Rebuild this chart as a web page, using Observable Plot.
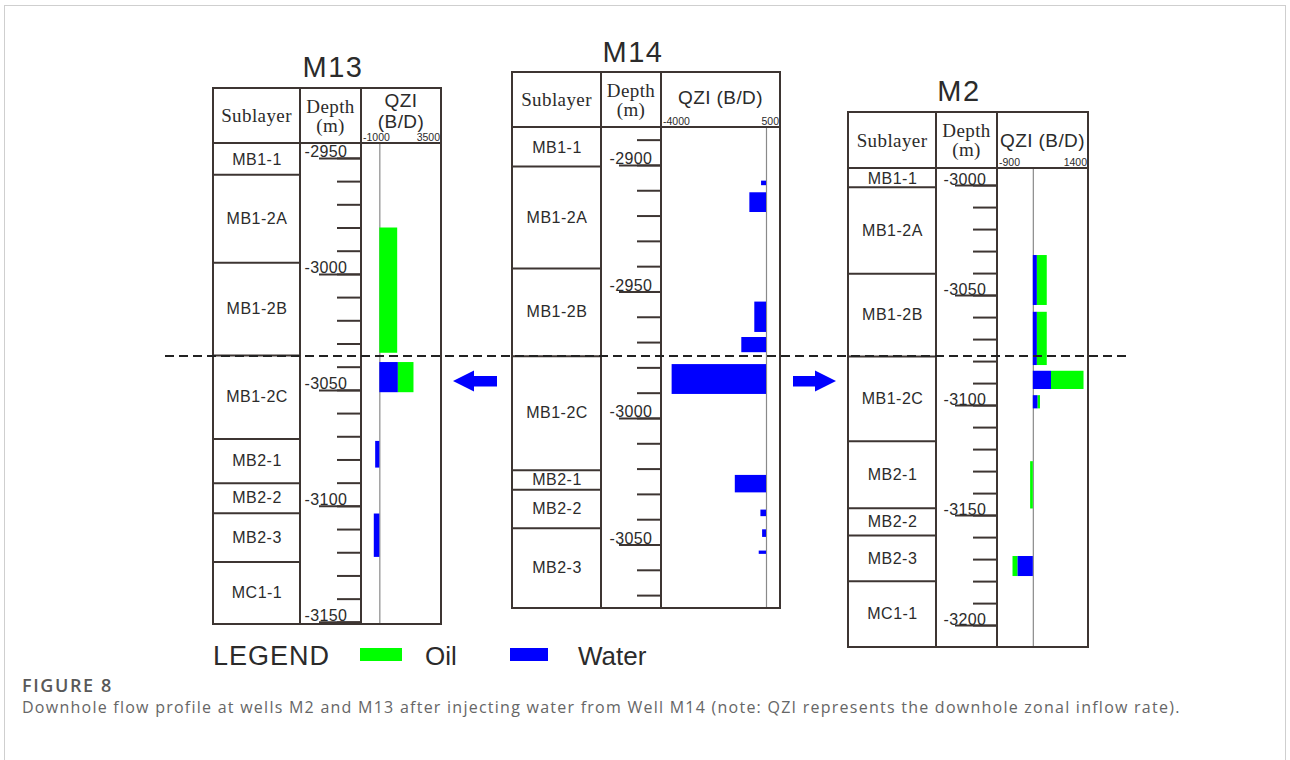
<!DOCTYPE html>
<html>
<head>
<meta charset="utf-8">
<script src="https://cdn.jsdelivr.net/npm/d3@7"></script>
<script src="https://cdn.jsdelivr.net/npm/@observablehq/plot@0.6"></script>
<style>
  html, body { margin: 0; padding: 0; background: #fff; }
  body { width: 1290px; height: 760px; position: relative; overflow: hidden; font-family: "Liberation Sans", Arial, sans-serif; color: #2b2b2b; }
  .card { position: absolute; left: 4px; top: 5px; width: 1282px; height: 800px; border: 1.5px solid #cfcfcf; box-sizing: border-box; }
  .tbl { position: absolute; display: grid; gap: 2px; padding: 2px; background: #3d3532; }
  .cell { background: #fff; position: relative; overflow: visible; }
  .cell svg { display: block; }
  .hd { display: flex; align-items: center; justify-content: center; text-align: center; }
  .serif { font-family: "Liberation Serif", "Times New Roman", serif; font-size: 19px; line-height: 19px; letter-spacing: 0.4px; color: #2b2b2b; }
  .qzi { font-family: "Liberation Sans", Arial, sans-serif; font-size: 19px; line-height: 21px; letter-spacing: 0.4px; color: #2b2b2b; white-space: nowrap; display: flex; flex-direction: column; align-items: center; }
  .qticks { position: absolute; left: 1px; right: 0px; bottom: 0px; display: flex; justify-content: space-between; font-size: 10.5px; line-height: 10px; color: #2b2b2b; }
  .overlay { position: absolute; left: 0; top: 0; pointer-events: none; }
  .fig { position: absolute; left: 22px; top: 676px; font-family: "Open Sans", "Noto Sans", sans-serif; font-weight: 600; font-size: 18px; line-height: 18px; letter-spacing: 1.6px; color: #595959; }
  .txt { position: absolute; left: 22px; top: 699px; font-family: "Open Sans", "Noto Sans", sans-serif; font-size: 16px; line-height: 16px; color: #666; letter-spacing: 1.25px; white-space: nowrap; }
</style>
</head>
<body>
<div class="card"></div>
<div id="wells"></div>
<div class="fig">FIGURE 8</div>
<div class="txt" id="cap"></div>
<script>
// ---------------- DATA ----------------
// Well M13
const m13Layers = ["MB1-1", "MB1-2A", "MB1-2B", "MB1-2C", "MB2-1", "MB2-2", "MB2-3", "MC1-1"];
const m13LayerEdges = [-2944, -2957, -2995, -3035, -3071, -3090, -3103, -3124, -3150.5];
const m13DepthLabels = [-2950, -3000, -3050, -3100, -3150];
const m13TickFirst = -2950, m13TickLast = -3150;
const m13QziRange = [-1000, 3500];
const m13BarTop = [-2980, -3038, -3072, -3103.3];
const m13BarBottom = [-3034, -3051, -3083.5, -3122];
const m13Water = [0, 1070, -240, -320];
const m13Oil = [1030, 900, 0, 0];

// Well M14 (injector)
const m14Layers = ["MB1-1", "MB1-2A", "MB1-2B", "MB1-2C", "MB2-1", "MB2-2", "MB2-3"];
const m14LayerEdges = [-2885.4, -2900.4, -2940.7, -2975.4, -3020.5, -3028.2, -3043.4, -3074.7];
const m14DepthLabels = [-2900, -2950, -3000, -3050];
const m14TickFirst = -2890, m14TickLast = -3070;
const m14QziRange = [-4000, 500];
const m14BarTop = [-2906.2, -2910.8, -2954, -2968, -2978.7, -3022.5, -3036.2, -3044, -3052.4];
const m14BarBottom = [-2908, -2918.6, -2966, -2974, -2990.5, -3029.4, -3038.8, -3047, -3053.7];
const m14Water = [-190, -640, -450, -950, -3630, -1200, -215, -150, -280];
const m14Oil = [0, 0, 0, 0, 0, 0, 0, 0, 0];

// Well M2
const m2Layers = ["MB1-1", "MB1-2A", "MB1-2B", "MB1-2C", "MB2-1", "MB2-2", "MB2-3", "MC1-1"];
const m2LayerEdges = [-2992.7, -3000.8, -3040.1, -3077.7, -3116.2, -3146.7, -3159.1, -3179.9, -3209.5];
const m2DepthLabels = [-3000, -3050, -3100, -3150, -3200];
const m2TickFirst = -3000, m2TickLast = -3200;
const m2QziRange = [-900, 1400];
const m2BarTop = [-3031.8, -3057.6, -3084.4, -3095.5, -3125.5, -3168.6];
const m2BarBottom = [-3054.5, -3081.8, -3092.7, -3101.5, -3147, -3177.7];
const m2Water = [105, 105, 470, 125, 0, -400];
const m2Oil = [255, 255, 840, 60, -70, -125];

const legendLabels = ["Oil", "Water"];
const caption = "Downhole flow profile at wells M2 and M13 after injecting water from Well M14 (note: QZI represents the downhole zonal inflow rate).";

// ---------------- STYLE / LAYOUT ----------------
const LINE = "#3d3532";
const INK = "#2b2b2b";
const OIL = "#00ff00";
const WATER = "#0000ff";

document.getElementById("cap").textContent = caption;

const wells = [
  {name: "M13", layers: m13Layers, edges: m13LayerEdges, labels: m13DepthLabels, tickFirst: m13TickFirst, tickLast: m13TickLast,
   qzi: m13QziRange, top: m13BarTop, bottom: m13BarBottom, water: m13Water, oil: m13Oil,
   L: {left: 212, top: 87, cols: [85, 59, 78], headH: 53, bodyH: 479, labelDx: 3, qziTwo: true, qziPad: 9, titleX: 333, titleY: 77}},
  {name: "M14", layers: m14Layers, edges: m14LayerEdges, labels: m14DepthLabels, tickFirst: m14TickFirst, tickLast: m14TickLast,
   qzi: m14QziRange, top: m14BarTop, bottom: m14BarBottom, water: m14Water, oil: m14Oil,
   L: {left: 511, top: 71, cols: [87, 58, 117], headH: 53, bodyH: 479, labelDx: 7, qziTwo: false, qziPad: 4, titleX: 633, titleY: 62}},
  {name: "M2", layers: m2Layers, edges: m2LayerEdges, labels: m2DepthLabels, tickFirst: m2TickFirst, tickLast: m2TickLast,
   qzi: m2QziRange, top: m2BarTop, bottom: m2BarBottom, water: m2Water, oil: m2Oil,
   L: {left: 847, top: 111, cols: [86, 59, 89], headH: 54, bodyH: 477, labelDx: 6, qziTwo: false, qziPad: 0, titleX: 959, titleY: 101}}
];

const baseStyle = {background: "transparent", overflow: "visible", fontFamily: "'Liberation Sans', Arial, sans-serif", color: INK};

function cell(parent, cls) {
  const d = document.createElement("div");
  d.className = "cell " + (cls || "");
  parent.appendChild(d);
  return d;
}

const host = document.getElementById("wells");

for (const w of wells) {
  const L = w.L;
  const yDomain = [w.edges[w.edges.length - 1], w.edges[0]];
  const tbl = document.createElement("div");
  tbl.className = "tbl";
  tbl.style.left = L.left + "px";
  tbl.style.top = L.top + "px";
  tbl.style.gridTemplateColumns = L.cols.map(c => c + "px").join(" ");
  tbl.style.gridTemplateRows = `${L.headH}px ${L.bodyH}px`;
  host.appendChild(tbl);

  // header row
  const h1 = cell(tbl, "hd");
  h1.innerHTML = `<span class="serif">Sublayer</span>`;
  const h2 = cell(tbl, "hd");
  h2.innerHTML = `<span class="serif">Depth<br>(m)</span>`;
  const h3 = cell(tbl, "hd");
  const qziText = L.qziTwo ? "<span>QZI</span><span>(B/D)</span>" : "<span>QZI (B/D)</span>";
  h3.innerHTML = `<div class="qzi" style="margin-bottom:${L.qziPad}px">${qziText}</div>` +
    `<div class="qticks"><span>${w.qzi[0]}</span><span>${w.qzi[1]}</span></div>`;

  // sublayer column
  const layerData = w.layers.map((name, i) => ({name, top: w.edges[i], bottom: w.edges[i + 1]}));
  const c1 = cell(tbl);
  c1.appendChild(Plot.plot({
    width: L.cols[0], height: L.bodyH, margin: 0,
    y: {axis: null, domain: yDomain},
    style: {...baseStyle, letterSpacing: "0.5px"},
    marks: [
      Plot.ruleY(w.edges.slice(1, -1), {stroke: LINE, strokeWidth: 2}),
      Plot.text(layerData, {y: d => (d.top + d.bottom) / 2, text: "name", frameAnchor: "middle", fontSize: 16, fill: INK})
    ]
  }));

  // depth column
  const minor = d3.range(w.tickFirst, w.tickLast - 1, -10);
  const c2 = cell(tbl);
  c2.appendChild(Plot.plot({
    width: L.cols[1], height: L.bodyH, margin: 0,
    y: {axis: null, domain: yDomain},
    style: {...baseStyle, letterSpacing: "0.4px"},
    marks: [
      Plot.tickY(minor, {y: d => d, insetLeft: L.cols[1] - 23, stroke: LINE, strokeWidth: 2}),
      Plot.tickY(w.labels, {y: d => d, insetLeft: L.cols[1] - 41, stroke: LINE, strokeWidth: 2}),
      Plot.text(w.labels, {y: d => d, text: d => String(d), frameAnchor: "left", textAnchor: "start", dx: L.labelDx, lineAnchor: "bottom", dy: -1, fontSize: 16, fill: INK})
    ]
  }));

  // QZI column
  const bars = w.top.map((t, i) => ({top: t, bottom: w.bottom[i], water: w.water[i], oil: w.oil[i]}));
  const c3 = cell(tbl);
  c3.appendChild(Plot.plot({
    width: L.cols[2], height: L.bodyH, margin: 0,
    x: {axis: null, domain: w.qzi},
    y: {axis: null, domain: yDomain},
    style: baseStyle,
    marks: [
      Plot.ruleX([0], {stroke: "#8a8a8a", strokeWidth: 1.2}),
      Plot.rect(bars.filter(d => d.water !== 0), {x1: 0, x2: "water", y1: "top", y2: "bottom", fill: WATER}),
      Plot.rect(bars.filter(d => d.oil !== 0), {x1: "water", x2: d => d.water + d.oil, y1: "top", y2: "bottom", fill: OIL})
    ]
  }));
}

// ---------------- overlay: titles, dashed boundary, arrows, legend ----------------
const NS = "http://www.w3.org/2000/svg";
const ov = document.createElementNS(NS, "svg");
ov.setAttribute("class", "overlay");
ov.setAttribute("width", 1290);
ov.setAttribute("height", 760);
document.body.appendChild(ov);
function el(tag, attrs, text) {
  const e = document.createElementNS(NS, tag);
  for (const k in attrs) e.setAttribute(k, attrs[k]);
  if (text != null) e.textContent = text;
  ov.appendChild(e);
  return e;
}
for (const w of wells) {
  el("text", {x: w.L.titleX, y: w.L.titleY, "text-anchor": "middle", "font-size": 29, "letter-spacing": 1.5,
    "font-family": "Liberation Sans, Arial, sans-serif", fill: INK}, w.name);
}
el("line", {x1: 165, x2: 1128, y1: 356, y2: 356, stroke: "#222", "stroke-width": 2, "stroke-dasharray": "9 5"});
el("polygon", {points: "453,381 474,370.5 474,376 497,376 497,386.5 474,386.5 474,391.5", fill: WATER});
el("polygon", {points: "836,381 815,370.5 815,376 793,376 793,386.5 815,386.5 815,391.5", fill: WATER});
// legend
el("text", {x: 213, y: 665, "font-size": 27, "letter-spacing": 1, "font-family": "Liberation Sans, Arial, sans-serif", fill: INK}, "LEGEND");
el("rect", {x: 360, y: 648, width: 42, height: 13, fill: OIL});
el("text", {x: 425, y: 665, "font-size": 26, "font-family": "Liberation Sans, Arial, sans-serif", fill: INK}, legendLabels[0]);
el("rect", {x: 510, y: 648, width: 38, height: 13, fill: WATER});
el("text", {x: 578, y: 665, "font-size": 26, "font-family": "Liberation Sans, Arial, sans-serif", fill: INK}, legendLabels[1]);
</script>
</body>
</html>
